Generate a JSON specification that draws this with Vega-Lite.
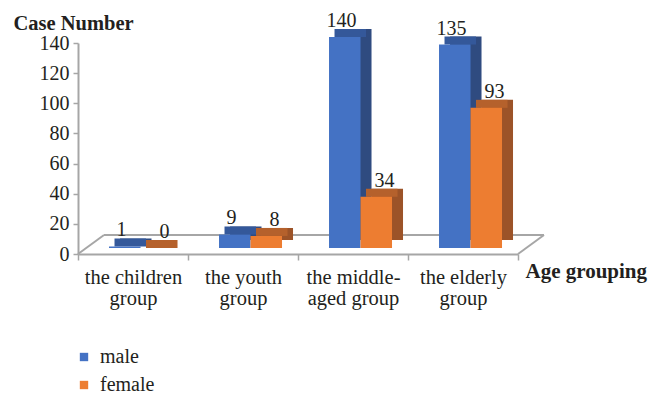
{
  "$schema": "https://vega.github.io/schema/vega-lite/v6.json",
  "width": 440,
  "height": 211,
  "autosize": {"type": "none"},
  "padding": {"left": 78, "top": 43, "right": 141, "bottom": 141},
  "background": "white",
  "config": {"font": "Liberation Serif", "view": {"stroke": null}, "text": {"font": "Liberation Serif"}, "legend": {"labelFont": "Liberation Serif"}},
  "resolve": {"scale": {"x": "independent"}, "axis": {"y": "independent"}},
  "layer": [
    {
      "data": {"values": [{}]},
      "layer": [
        {
          "mark": {"type": "rule", "color": "#a6a6a6", "strokeWidth": 2, "xOffset": 26, "x2Offset": 26, "yOffset": -19},
          "encoding": {
            "x": {"datum": 0, "type": "quantitative", "scale": {"domain": [0, 4]}, "axis": null},
            "x2": {"datum": 4},
            "y": {"datum": 0, "type": "quantitative", "axis": null}
          }
        },
        {
          "mark": {"type": "rule", "color": "#a6a6a6", "strokeWidth": 2, "x2Offset": 26, "y2Offset": -19},
          "encoding": {
            "x": {"datum": 0, "type": "quantitative", "scale": {"domain": [0, 4]}, "axis": null},
            "x2": {"datum": 0},
            "y": {"datum": 0, "type": "quantitative", "axis": null},
            "y2": {"datum": 0}
          }
        },
        {
          "mark": {"type": "rule", "color": "#a6a6a6", "strokeWidth": 2, "x2Offset": 26, "y2Offset": -19},
          "encoding": {
            "x": {"datum": 4, "type": "quantitative", "scale": {"domain": [0, 4]}, "axis": null},
            "x2": {"datum": 4},
            "y": {"datum": 0, "type": "quantitative", "axis": null},
            "y2": {"datum": 0}
          }
        }
      ]
    },
    {
      "data": {
        "values": [
          {"group": "the children group", "sex": "male", "cases": 1},
          {"group": "the children group", "sex": "female", "cases": 0},
          {"group": "the youth group", "sex": "male", "cases": 9},
          {"group": "the youth group", "sex": "female", "cases": 8},
          {"group": "the middle-aged group", "sex": "male", "cases": 140},
          {"group": "the middle-aged group", "sex": "female", "cases": 34},
          {"group": "the elderly group", "sex": "male", "cases": 135},
          {"group": "the elderly group", "sex": "female", "cases": 93}
        ]
      },
      "resolve": {"scale": {"xOffset": "independent"}},
      "encoding": {
        "x": {
          "field": "group",
          "type": "nominal",
          "sort": null,
          "scale": {"paddingInner": 0, "paddingOuter": 0},
          "axis": {
            "title": "Age grouping",
            "titleX": 447,
            "titleY": 23,
            "titleAlign": "left",
            "titleBaseline": "alphabetic",
            "titleFontSize": 21,
            "titleFontWeight": "bold",
            "titleColor": "#231f20",
            "labelAngle": 0,
            "labelFontSize": 20.5,
            "labelColor": "#231f20",
            "labelExpr": "datum.label == 'the middle-aged group' ? ['the middle-', 'aged group'] : (indexof(datum.label, ' group') > 0 ? [replace(datum.label, ' group', ''), 'group'] : datum.label)",
            "labelBaseline": "alphabetic",
            "labelPadding": 23,
            "labelLineHeight": 21,
            "labelOverlap": false,
            "tickBand": "extent",
            "tickSize": 6,
            "tickWidth": 1.5,
            "tickColor": "#a6a6a6",
            "domainColor": "#a6a6a6",
            "domainWidth": 2
          }
        },
        "y": {
          "field": "cases",
          "type": "quantitative",
          "scale": {"domain": [0, 140], "nice": false},
          "axis": {
            "title": "Case Number",
            "titleAngle": 0,
            "titleAlign": "left",
            "titleBaseline": "alphabetic",
            "titleX": -65,
            "titleY": -14,
            "titleFontSize": 20.5,
            "titleFontWeight": "bold",
            "titleColor": "#231f20",
            "values": [0, 20, 40, 60, 80, 100, 120, 140],
            "labelOverlap": false,
            "grid": false,
            "labelFontSize": 20,
            "labelColor": "#231f20",
            "labelPadding": 4,
            "tickSize": 5,
            "tickWidth": 1.5,
            "tickColor": "#a6a6a6",
            "domainColor": "#a6a6a6",
            "domainWidth": 2
          }
        }
      },
      "layer": [
        {
          "mark": {"type": "bar", "yOffset": -14, "y2Offset": -14},
          "encoding": {
            "xOffset": {"field": "sex", "type": "nominal", "sort": ["male", "female"], "scale": {"paddingInner": 0, "paddingOuter": 0.746, "align": 0.894}},
            "fill": {"condition": {"test": "datum.sex == 'male'", "value": "#2f4b80"}, "value": "#9c5328"}
          }
        },
        {
          "mark": {"type": "bar", "yOffset": -14, "y2Offset": -6},
          "encoding": {
            "xOffset": {"field": "sex", "type": "nominal", "sort": ["male", "female"], "scale": {"paddingInner": 0, "paddingOuter": 0.746, "align": 0.777}},
            "y2": {"field": "cases"},
            "fill": {"condition": {"test": "datum.sex == 'male'", "value": "#34589a"}, "value": "#b5612c"}
          }
        },
        {
          "mark": {"type": "bar", "yOffset": -6, "y2Offset": -6},
          "encoding": {
            "xOffset": {"field": "sex", "type": "nominal", "sort": ["male", "female"], "scale": {"paddingInner": 0, "paddingOuter": 0.746, "align": 0.66}},
            "color": {
              "field": "sex",
              "type": "nominal",
              "sort": ["male", "female"],
              "scale": {"domain": ["male", "female"], "range": ["#4472c4", "#ed7d31"]},
              "legend": {
                "orient": "none",
                "legendX": -4,
                "legendY": 304,
                "title": null,
                "symbolType": "square",
                "symbolSize": 70,
                "symbolStrokeWidth": 0,
                "labelFont": "Liberation Serif",
                "labelFontSize": 20,
                "labelColor": "#231f20",
                "labelOffset": 6,
                "rowPadding": 8,
                "encode": {"labels": {"update": {"font": {"value": "Liberation Serif"}, "fontSize": {"value": 20}}}}
              }
            }
          }
        },
        {
          "transform": [{"filter": "datum.sex == 'male'"}],
          "mark": {"type": "text", "font": "Liberation Serif", "fontSize": 20, "color": "#231f20", "baseline": "alphabetic", "dx": 0, "yOffset": -16},
          "encoding": {
            "xOffset": {"field": "sex", "type": "nominal", "sort": ["male", "female"], "scale": {"domain": ["male", "female"], "paddingInner": 0, "paddingOuter": 0.746, "align": 0.66}},
            "text": {"field": "cases", "type": "quantitative"}
          }
        },
        {
          "transform": [{"filter": "datum.sex == 'female'"}],
          "mark": {"type": "text", "font": "Liberation Serif", "fontSize": 20, "color": "#231f20", "baseline": "alphabetic", "dx": -1, "yOffset": -16},
          "encoding": {
            "xOffset": {"field": "sex", "type": "nominal", "sort": ["male", "female"], "scale": {"domain": ["male", "female"], "paddingInner": 0, "paddingOuter": 0.746, "align": 0.66}},
            "text": {"field": "cases", "type": "quantitative"}
          }
        }
      ]
    }
  ]
}
